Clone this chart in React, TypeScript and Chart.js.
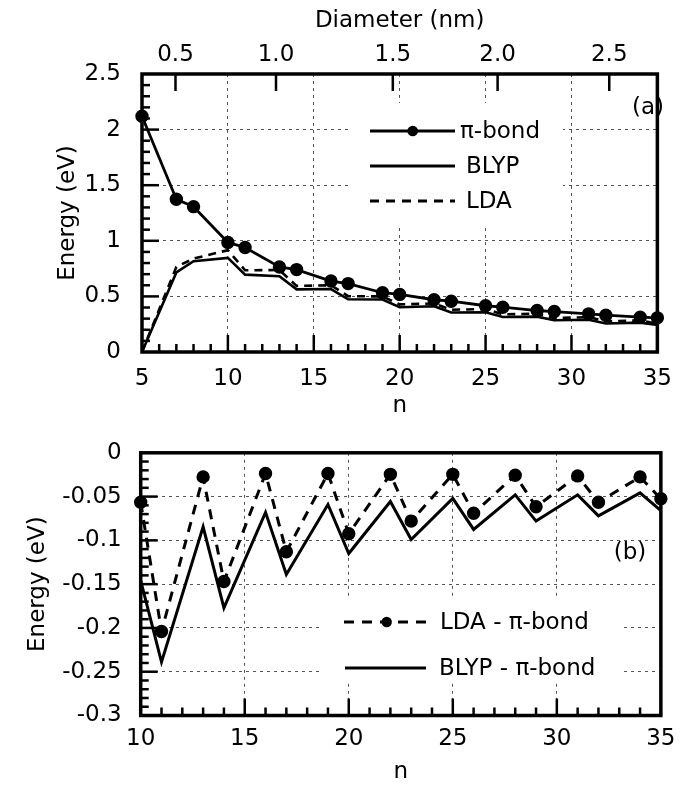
import React, { useEffect, useRef } from 'react';
import { Chart, registerables } from 'chart.js';

Chart.register(...registerables);

// ---------- data ----------
const nTop = [5, 7, 8, 10, 11, 13, 14, 16, 17, 19, 20, 22, 23, 25, 26, 28, 29, 31, 32, 34, 35];
const piBond = [2.12, 1.374, 1.307, 0.985, 0.94, 0.765, 0.741, 0.638, 0.615, 0.533, 0.518, 0.47, 0.457, 0.416, 0.403, 0.373, 0.364, 0.343, 0.331, 0.313, 0.307];
const blyp = [0.0, 0.715, 0.816, 0.846, 0.696, 0.681, 0.563, 0.566, 0.474, 0.472, 0.403, 0.412, 0.355, 0.358, 0.315, 0.318, 0.285, 0.29, 0.256, 0.264, 0.244];
const lda = [0.0, 0.765, 0.84, 0.916, 0.735, 0.737, 0.594, 0.6, 0.502, 0.5, 0.428, 0.436, 0.38, 0.386, 0.338, 0.345, 0.305, 0.314, 0.276, 0.284, 0.256];

const diameterTickN = [6.95, 12.8, 19.6, 25.7, 32.2];
const diameterTickLabels = ['0.5', '1.0', '1.5', '2.0', '2.5'];

const nBottom = [10, 11, 13, 14, 16, 17, 19, 20, 22, 23, 25, 26, 28, 29, 31, 32, 34, 35];
const ldaMinusPi = [-0.0565, -0.204, -0.0275, -0.147, -0.0236, -0.113, -0.0236, -0.0924, -0.0246, -0.078, -0.0246, -0.069, -0.0257, -0.0616, -0.0264, -0.0565, -0.0275, -0.0525];
const blypMinusPi = [-0.146, -0.239, -0.0846, -0.177, -0.068, -0.139, -0.059, -0.115, -0.0556, -0.099, -0.052, -0.0875, -0.048, -0.078, -0.048, -0.072, -0.0457, -0.066];

// ---------- styling ----------
const FONT = "'DejaVu Sans', 'Liberation Sans', Arial, sans-serif";
const TICK_SIZE = 23;
const TITLE_SIZE = 23;
const GRID_COLOR = '#555';

const rangeTicks = (min: number, max: number, step: number) => {
  const out: number[] = [];
  const n = Math.round((max - min) / step);
  for (let i = 0; i <= n; i++) out.push(min + i * step);
  return out;
};
const isMult = (v: number, m: number) => Math.abs(v / m - Math.round(v / m)) < 1e-6;

const frameTicks = {
  id: 'frameTicks',
  afterDatasetsDraw(chart: any, _args: any, opts: any) {
    const { ctx, chartArea: a, scales } = chart;
    ctx.save();
    ctx.strokeStyle = '#000';
    ctx.lineWidth = opts.tickWidth;
    const xs = scales.x;
    const ys = scales.y;
    for (const v of rangeTicks(xs.min, xs.max, opts.xMinor)) {
      if (v <= xs.min + 1e-9 || v >= xs.max - 1e-9) continue;
      const p = xs.getPixelForValue(v);
      const L = isMult(v, opts.xMajor) ? opts.majorLen : opts.minorLen;
      ctx.beginPath();
      ctx.moveTo(p, a.bottom);
      ctx.lineTo(p, a.bottom - L);
      ctx.stroke();
    }
    for (const v of rangeTicks(ys.min, ys.max, opts.yMinor)) {
      if (v <= ys.min + 1e-9 || v >= ys.max - 1e-9) continue;
      const p = ys.getPixelForValue(v);
      const L = isMult(v, opts.yMajor) ? opts.majorLen : opts.minorLen;
      ctx.beginPath();
      ctx.moveTo(a.left, p);
      ctx.lineTo(a.left + L, p);
      ctx.stroke();
    }
    if (opts.topScale) {
      const ts = scales[opts.topScale];
      for (const t of ts.ticks) {
        const p = ts.getPixelForValue(t.value);
        ctx.beginPath();
        ctx.moveTo(p, a.top);
        ctx.lineTo(p, a.top + opts.majorLen);
        ctx.stroke();
      }
    }
    ctx.lineWidth = opts.frameWidth;
    ctx.strokeRect(a.left, a.top, a.right - a.left, a.bottom - a.top);
    ctx.restore();
  },
};

const legendBox = {
  id: 'legendBox',
  afterDraw(chart: any, _args: any, opts: any) {
    const { ctx } = chart;
    ctx.save();
    const [bx, by, bw, bh] = opts.box;
    ctx.fillStyle = '#fff';
    ctx.fillRect(bx, by, bw, bh);
    ctx.font = `${opts.fontSize}px ${FONT}`;
    ctx.textBaseline = 'middle';
    ctx.textAlign = 'left';
    for (const it of opts.items) {
      ctx.strokeStyle = '#000';
      ctx.lineWidth = it.width;
      ctx.setLineDash(it.dash || []);
      ctx.beginPath();
      ctx.moveTo(it.x1, it.y);
      ctx.lineTo(it.x2, it.y);
      ctx.stroke();
      ctx.setLineDash([]);
      if (it.marker) {
        ctx.fillStyle = '#000';
        ctx.beginPath();
        ctx.arc(it.marker, it.y, it.radius, 0, Math.PI * 2);
        ctx.fill();
      }
      ctx.fillStyle = '#000';
      ctx.fillText(it.text, it.tx, it.y + 1);
    }
    if (opts.tag) {
      ctx.textAlign = 'center';
      ctx.font = `${opts.tag.size}px ${FONT}`;
      ctx.fillText(opts.tag.text, opts.tag.x, opts.tag.y);
    }
    ctx.restore();
  },
};

const fmt = (v: any) => String(parseFloat(Number(v).toFixed(3)));

const gridColorSkipEdges = (min: number, max: number) => (c: any) => {
  const v = c.tick ? c.tick.value : NaN;
  if (Math.abs(v - min) < 1e-9 || Math.abs(v - max) < 1e-9) return 'rgba(0,0,0,0)';
  return GRID_COLOR;
};

function topConfig(): any {
  return {
    type: 'line',
    data: {
      datasets: [
        {
          label: 'LDA',
          data: nTop.map((n, i) => ({ x: n, y: lda[i] })),
          borderColor: '#000',
          borderWidth: 2.6,
          borderDash: [8, 6],
          pointRadius: 0,
          tension: 0,
          clip: false,
        },
        {
          label: 'BLYP',
          data: nTop.map((n, i) => ({ x: n, y: blyp[i] })),
          borderColor: '#000',
          borderWidth: 2.6,
          pointRadius: 0,
          tension: 0,
          clip: false,
        },
        {
          label: 'π-bond',
          data: nTop.map((n, i) => ({ x: n, y: piBond[i] })),
          borderColor: '#000',
          backgroundColor: '#000',
          pointBackgroundColor: '#000',
          pointBorderColor: '#000',
          borderWidth: 2.8,
          pointRadius: 5.3,
          tension: 0,
          clip: false,
        },
      ],
    },
    options: {
      responsive: false,
      animation: false,
      events: [],
      layout: { padding: { left: 0, right: 14, top: 0, bottom: 0 } },
      plugins: {
        legend: { display: false },
        tooltip: { enabled: false },
        frameTicks: { xMinor: 1, xMajor: 5, yMinor: 0.1, yMajor: 0.5, majorLen: 17, minorLen: 8, tickWidth: 2.5, frameWidth: 3.5, topScale: 'x2' },
        legendBox: {
          box: [352, 103, 211, 125],
          fontSize: 23,
          items: [
            { y: 131, x1: 370, x2: 455, width: 3, marker: 412.7, radius: 5.3, text: 'π-bond', tx: 460 },
            { y: 166, x1: 370, x2: 455, width: 3, text: 'BLYP', tx: 466 },
            { y: 201, x1: 370, x2: 455, width: 3, dash: [9, 7], text: 'LDA', tx: 466 },
          ],
          tag: { text: '(a)', x: 648, y: 108, size: 23 },
        },
      },
      scales: {
        x: {
          type: 'linear',
          position: 'bottom',
          min: 5,
          max: 35,
          afterFit: (s: any) => { s.height = 68; },
          ticks: { stepSize: 5, color: '#000', font: { size: TICK_SIZE, family: FONT }, padding: 13, maxRotation: 0 },
          grid: { color: gridColorSkipEdges(5, 35), lineWidth: 1, drawTicks: false },
          border: { display: false, dash: [3, 4] },
          title: { display: true, text: 'n', color: '#000', font: { size: TITLE_SIZE, family: FONT }, padding: { top: 0, bottom: 0 } },
        },
        x2: {
          type: 'linear',
          position: 'top',
          min: 5,
          max: 35,
          afterFit: (s: any) => { s.height = 74; },
          afterBuildTicks: (s: any) => { s.ticks = diameterTickN.map((v) => ({ value: v })); },
          ticks: {
            autoSkip: false,
            maxRotation: 0,
            color: '#000',
            font: { size: TICK_SIZE, family: FONT },
            padding: 5,
            callback: (_v: any, i: number) => diameterTickLabels[i],
          },
          grid: { display: false, drawTicks: false },
          border: { display: false },
          title: { display: true, text: 'Diameter (nm)', color: '#000', font: { size: TITLE_SIZE, family: FONT }, padding: { top: 7, bottom: 0 } },
        },
        y: {
          type: 'linear',
          position: 'left',
          min: 0,
          max: 2.5,
          afterFit: (s: any) => { s.width = 142; },
          ticks: { stepSize: 0.5, color: '#000', font: { size: TICK_SIZE, family: FONT }, padding: 21, callback: fmt },
          grid: { color: gridColorSkipEdges(0, 2.5), lineWidth: 1, drawTicks: false },
          border: { display: false, dash: [3, 4] },
          title: { display: true, text: 'Energy (eV)', color: '#000', font: { size: TITLE_SIZE, family: FONT }, padding: { top: 54, bottom: 0 } },
        },
      },
    },
    plugins: [frameTicks, legendBox],
  };
}

function bottomConfig(): any {
  return {
    type: 'line',
    data: {
      datasets: [
        {
          label: 'BLYP - π-bond',
          data: nBottom.map((n, i) => ({ x: n, y: blypMinusPi[i] })),
          borderColor: '#000',
          borderWidth: 3,
          pointRadius: 0,
          tension: 0,
          clip: false,
        },
        {
          label: 'LDA - π-bond',
          data: nBottom.map((n, i) => ({ x: n, y: ldaMinusPi[i] })),
          borderColor: '#000',
          backgroundColor: '#000',
          pointBackgroundColor: '#000',
          pointBorderColor: '#000',
          borderWidth: 3,
          borderDash: [10, 8],
          pointRadius: 5.2,
          tension: 0,
          clip: false,
        },
      ],
    },
    options: {
      responsive: false,
      animation: false,
      events: [],
      layout: { padding: { left: 0, right: 17, top: 19, bottom: 0 } },
      plugins: {
        legend: { display: false },
        tooltip: { enabled: false },
        frameTicks: { xMinor: 1, xMajor: 5, yMinor: 0.01, yMajor: 0.05, majorLen: 17, minorLen: 8, tickWidth: 2.5, frameWidth: 3.5 },
        legendBox: {
          box: [320, 178, 300, 85],
          fontSize: 23,
          items: [
            { y: 202, x1: 344, x2: 432, width: 3, dash: [10, 8], marker: 386.7, radius: 5.2, text: 'LDA - π-bond', tx: 440 },
            { y: 248, x1: 345, x2: 426, width: 3, text: 'BLYP - π-bond', tx: 439 },
          ],
          tag: { text: '(b)', x: 630, y: 133, size: 23 },
        },
      },
      scales: {
        x: {
          type: 'linear',
          position: 'bottom',
          min: 10,
          max: 35,
          afterFit: (s: any) => { s.height = 70.5; },
          ticks: { stepSize: 5, color: '#000', font: { size: TICK_SIZE, family: FONT }, padding: 9.5, maxRotation: 0 },
          grid: { color: gridColorSkipEdges(10, 35), lineWidth: 1, drawTicks: false },
          border: { display: false, dash: [3, 4] },
          title: { display: true, text: 'n', color: '#000', font: { size: TITLE_SIZE, family: FONT }, padding: { top: 0, bottom: 0 } },
        },
        y: {
          type: 'linear',
          position: 'left',
          min: -0.3,
          max: 0,
          afterFit: (s: any) => { s.width = 140.7; },
          ticks: { stepSize: 0.05, color: '#000', font: { size: TICK_SIZE, family: FONT }, padding: 19, callback: fmt },
          grid: { color: gridColorSkipEdges(-0.3, 0), lineWidth: 1, drawTicks: false },
          border: { display: false, dash: [3, 4] },
          title: { display: true, text: 'Energy (eV)', color: '#000', font: { size: TITLE_SIZE, family: FONT }, padding: { top: 24, bottom: 0 } },
        },
      },
    },
    plugins: [frameTicks, legendBox],
  };
}

export default function App() {
  const topRef = useRef<HTMLCanvasElement | null>(null);
  const botRef = useRef<HTMLCanvasElement | null>(null);

  useEffect(() => {
    Chart.defaults.font.family = FONT;
    Chart.defaults.color = '#000';
    const c1 = new Chart(topRef.current as HTMLCanvasElement, topConfig());
    const c2 = new Chart(botRef.current as HTMLCanvasElement, bottomConfig());
    return () => {
      c1.destroy();
      c2.destroy();
    };
  }, []);

  return (
    <div style={{ position: 'absolute', left: 0, top: 0, width: 685, height: 786, background: '#fff' }}>
      <canvas ref={topRef} width={685} height={420} style={{ display: 'block', width: 685, height: 420 }} />
      <canvas ref={botRef} width={685} height={366} style={{ display: 'block', width: 685, height: 366 }} />
    </div>
  );
}
